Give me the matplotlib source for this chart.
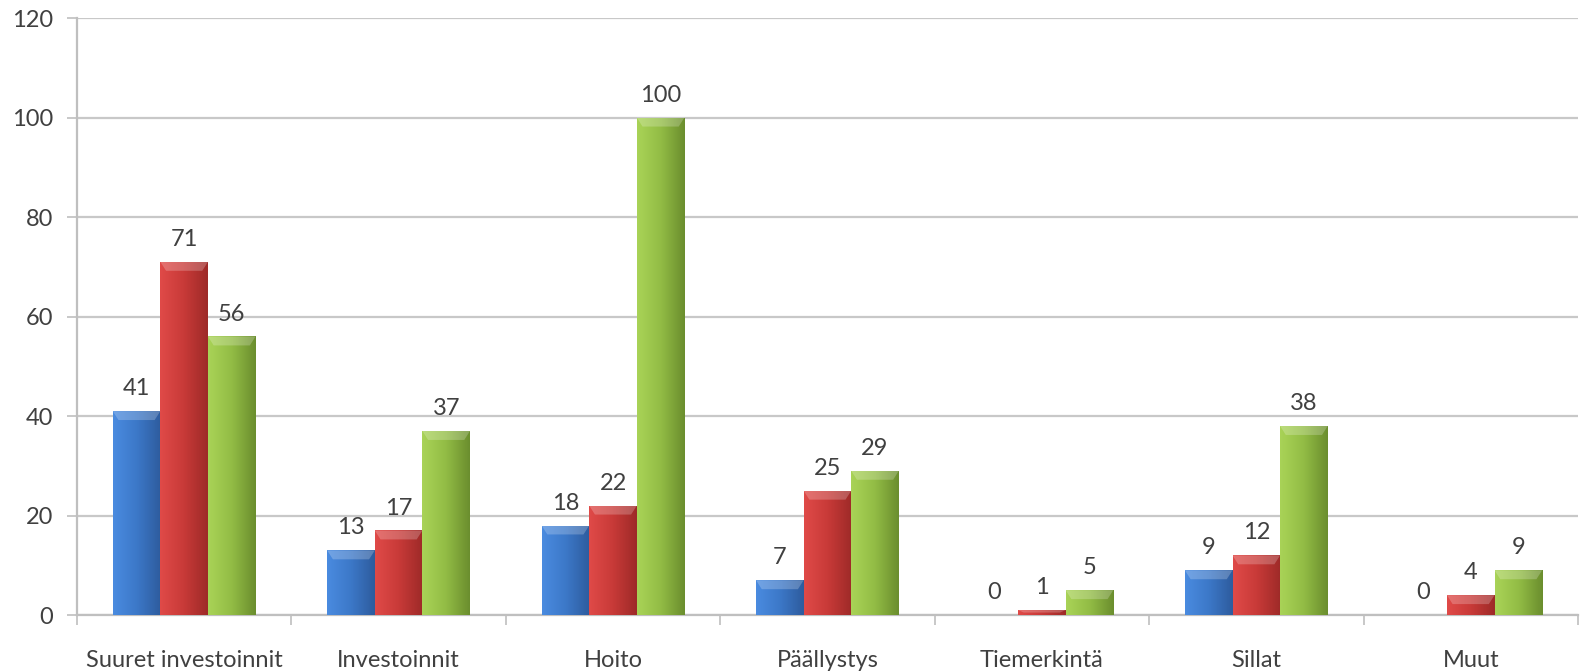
import numpy as np
import matplotlib
matplotlib.use("Agg")
import matplotlib.pyplot as plt
from matplotlib.colors import LinearSegmentedColormap

categories = ["Suuret investoinnit", "Investoinnit", "Hoito", "Päällystys",
              "Tiemerkintä", "Sillat", "Muut"]
series_a = [41, 13, 18, 7, 0, 9, 0]
series_b = [71, 17, 22, 25, 1, 12, 4]
series_c = [56, 37, 100, 29, 5, 38, 9]
yticks = [0, 20, 40, 60, 80, 100, 120]

palettes = [
    ["#4A8BE0", "#3C78C8", "#2E5C9E"],
    ["#E04A48", "#C83A38", "#9E2A28"],
    ["#A9D357", "#92BC45", "#6B8E2E"],
]

plt.rcParams['font.family'] = ['Lato', 'DejaVu Sans']
fig = plt.figure(figsize=(15.8, 6.71), dpi=100)
ax = fig.add_axes([0.0487, 0.0834, 0.9500, 0.8896])

n = len(categories)
x = np.arange(n)
w = 0.222
text_col = "#404040"
fs = 17

for i, (vals, pal) in enumerate(zip([series_a, series_b, series_c], palettes)):
    pos = x + (i - 1) * w
    bars = ax.bar(pos, vals, width=w, color=pal[1], edgecolor="none", zorder=3)
    cmap = LinearSegmentedColormap.from_list("g", [pal[0], pal[1], pal[2]])
    grad = np.linspace(0, 1, 64).reshape(1, -1)
    for b, v in zip(bars, vals):
        if v <= 0:
            continue
        x0, wd, h = b.get_x(), b.get_width(), b.get_height()
        im = ax.imshow(grad, cmap=cmap, aspect="auto",
                       extent=[x0, x0 + wd, 0, h], zorder=3, interpolation="bicubic")
        im.set_clip_path(b)
        bh = min(1.8, h * 0.5)
        ax.fill([x0, x0 + wd, x0 + wd * 0.88, x0 + wd * 0.12],
                [h, h, h - bh, h - bh], color="white", alpha=0.22, zorder=4, lw=0)
    for p, v in zip(pos, vals):
        ax.text(p, v + 2.4, str(v), ha="center", va="bottom",
                fontsize=fs, color=text_col, zorder=5)

ax.set_xlim(-0.5, n - 0.5)
ax.set_ylim(0, 120)
ax.set_yticks(yticks)
ax.set_yticklabels([str(t) for t in yticks], fontsize=fs, color=text_col)
ax.set_xticks(x)
ax.set_xticklabels(categories, fontsize=fs, color=text_col)
ax.tick_params(axis="x", length=0, pad=25)
ax.set_xticks(np.arange(n + 1) - 0.5, minor=True)
ax.tick_params(axis="x", which="minor", length=7, color="#BFBFBF", width=1.2)
ax.tick_params(axis="y", length=7, color="#BFBFBF", width=1.2, pad=10)

ax.grid(axis="y", color="#C8C8C8", lw=1.6, zorder=0)
ax.set_axisbelow(True)
for s in ["top", "right"]:
    ax.spines[s].set_visible(False)
ax.spines["left"].set_color("#BFBFBF")
ax.spines["left"].set_linewidth(1.6)
ax.spines["bottom"].set_color("#BFBFBF")
ax.spines["bottom"].set_linewidth(1.6)

fig.savefig("out.png", dpi=100, facecolor="white")
